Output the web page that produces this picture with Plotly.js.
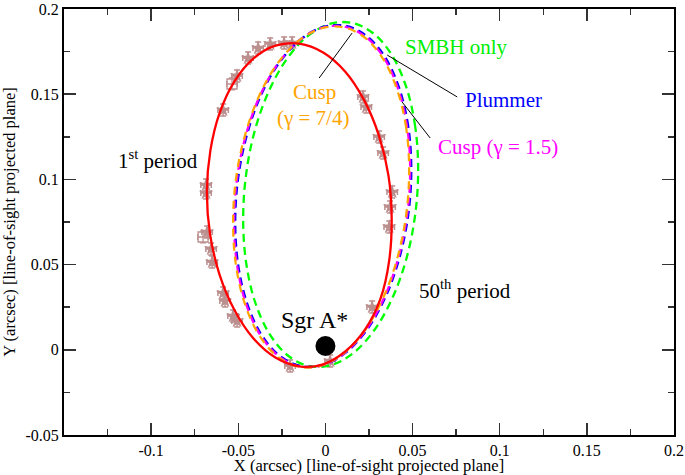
<!DOCTYPE html>
<html>
<head>
<meta charset="utf-8">
<script src="https://cdn.plot.ly/plotly-3.0.1.min.js"></script>
<style>html,body{margin:0;padding:0;background:#fff;}#plot{width:685px;height:475px;}</style>
</head>
<body>
<div id="plot"></div>
<script>
// Observed positions (arcsec)
const starX = [0.0027,-0.0203,-0.0507,-0.0530,-0.0576,-0.0587,-0.0650,-0.0656,-0.0679,-0.0685,-0.0685,-0.0587,-0.0507,-0.0444,-0.0386,-0.0317,-0.0237,-0.0191,0.0216,0.0234,0.0308,0.0331,0.0383,0.0371,0.0366,0.0268];
const starY = [-0.0066,-0.0095,0.0169,0.0198,0.0286,0.0333,0.0515,0.0592,0.0691,0.0920,0.0967,0.1407,0.1607,0.1712,0.1771,0.1795,0.1800,0.1800,0.1484,0.1425,0.1249,0.1155,0.0926,0.0838,0.0721,0.0251];
const squareX = [-0.0536,-0.0702];
const squareY = [0.1560,0.0662];
const errX = 0.003;
const errY = 0.0035;

// 1st period orbit (points read around the red curve)
const firstX = [0.0380,0.0362,0.0307,0.0222,0.0114,-0.0013,-0.0150,-0.0287,-0.0414,-0.0523,-0.0607,-0.0660,-0.0680,-0.0662,-0.0608,-0.0523,-0.0414,-0.0287,-0.0150,-0.0013,0.0114,0.0228,0.0316,0.0366];
const firstY = [0.0773,0.1021,0.1257,0.1465,0.1632,0.1745,0.1797,0.1785,0.1709,0.1574,0.1390,0.1170,0.0927,0.0679,0.0443,0.0235,0.0068,-0.0045,-0.0097,-0.0085,-0.0009,0.0120,0.0300,0.0525];

// 50th period: SMBH only
const smbhX = [0.0532,0.0515,0.0465,0.0385,0.0281,0.0160,0.0030,-0.0100,-0.0221,-0.0325,-0.0405,-0.0455,-0.0472,-0.0455,-0.0405,-0.0325,-0.0221,-0.0100,0.0030,0.0160,0.0281,0.0385,0.0465,0.0515];
const smbhY = [0.1057,0.1311,0.1538,0.1723,0.1852,0.1917,0.1914,0.1842,0.1707,0.1517,0.1287,0.1031,0.0766,0.0512,0.0285,0.0100,-0.0029,-0.0094,-0.0091,-0.0019,0.0116,0.0306,0.0536,0.0793];

// 50th period: Plummer
const plumX = [0.0492,0.0475,0.0424,0.0344,0.0240,0.0118,-0.0013,-0.0144,-0.0266,-0.0370,-0.0450,-0.0501,-0.0518,-0.0501,-0.0450,-0.0370,-0.0266,-0.0144,-0.0013,0.0118,0.0240,0.0344,0.0424,0.0475];
const plumY = [0.1057,0.1308,0.1532,0.1713,0.1838,0.1900,0.1894,0.1820,0.1684,0.1495,0.1265,0.1010,0.0749,0.0497,0.0273,0.0092,-0.0033,-0.0095,-0.0089,-0.0015,0.0121,0.0310,0.0540,0.0795];

// 50th period: Cusp (gamma = 1.5)
const cusp15X = [0.0486,0.0469,0.0418,0.0338,0.0234,0.0112,-0.0019,-0.0150,-0.0272,-0.0376,-0.0456,-0.0507,-0.0524,-0.0507,-0.0456,-0.0376,-0.0272,-0.0150,-0.0019,0.0112,0.0234,0.0338,0.0418,0.0469];
const cusp15Y = [0.1055,0.1306,0.1528,0.1709,0.1834,0.1896,0.1890,0.1816,0.1680,0.1491,0.1261,0.1008,0.0747,0.0495,0.0271,0.0090,-0.0035,-0.0097,-0.0091,-0.0017,0.0119,0.0308,0.0538,0.0793];

// 50th period: Cusp (gamma = 7/4)
const cusp74X = [0.0480,0.0463,0.0412,0.0332,0.0228,0.0106,-0.0025,-0.0156,-0.0278,-0.0382,-0.0462,-0.0513,-0.0530,-0.0513,-0.0462,-0.0382,-0.0278,-0.0156,-0.0025,0.0106,0.0228,0.0332,0.0412,0.0463];
const cusp74Y = [0.1053,0.1304,0.1524,0.1705,0.1830,0.1892,0.1886,0.1812,0.1676,0.1487,0.1257,0.1006,0.0745,0.0493,0.0269,0.0088,-0.0037,-0.0099,-0.0093,-0.0019,0.0117,0.0306,0.0536,0.0791];

// Sgr A*
const sgrX = [0.0];
const sgrY = [0.0022];

// Tick labels
const xTicks = [-0.1,-0.05,0,0.05,0.1,0.15,0.2];
const xTickText = ['-0.1','-0.05','0','0.05','0.1','0.15','0.2'];
const yTicks = [-0.05,0,0.05,0.1,0.15,0.2];
const yTickText = ['-0.05','0','0.05','0.1','0.15','0.2'];

const serif = 'Liberation Serif';
const ptColor = '#bc8f8f';

// close an orbit (first point repeated at the end)
function loop(arr) {
  const out = arr.slice();
  out.push(arr[0]);
  return out;
}

function orbit(xs, ys, line) {
  return {x: loop(xs), y: loop(ys), type: 'scatter', mode: 'lines',
          line: Object.assign({shape: 'spline', smoothing: 1}, line)};
}

const traces = [
  {x: starX, y: starY, type: 'scatter', mode: 'markers',
   marker: {symbol: 'star', size: 11, color: ptColor},
   error_x: {type: 'constant', value: errX, color: ptColor, thickness: 1.5, width: 3},
   error_y: {type: 'constant', value: errY, color: ptColor, thickness: 1.5, width: 3}},
  {x: squareX, y: squareY, type: 'scatter', mode: 'markers',
   marker: {symbol: 'square-open', size: 10, color: ptColor, line: {width: 1.3}},
   error_x: {type: 'constant', value: errX, color: ptColor, thickness: 1.3, width: 3},
   error_y: {type: 'constant', value: errY, color: ptColor, thickness: 1.3, width: 3}},
  orbit(smbhX, smbhY, {color: '#00ff00', width: 2.3, dash: '8px,5px'}),
  orbit(plumX, plumY, {color: '#0000ff', width: 2.5, dash: '8px,5px'}),
  orbit(cusp15X, cusp15Y, {color: '#ff00ff', width: 2.2, dash: '8px,5px'}),
  orbit(cusp74X, cusp74Y, {color: '#ffa500', width: 2.2, dash: '8px,6px'}),
  orbit(firstX, firstY, {color: '#ff0000', width: 2.3}),
  {x: sgrX, y: sgrY, type: 'scatter', mode: 'markers',
   marker: {symbol: 'circle', size: 20, color: '#000000'}}
];

function ann(x, y, text, color, size) {
  return {x: x, y: y, xref: 'x', yref: 'y', text: text, showarrow: false,
          font: {family: serif, size: size || 21, color: color}, xanchor: 'center', yanchor: 'middle'};
}

const layout = {
  width: 685, height: 475,
  margin: {l: 64, r: 11, t: 9, b: 40},
  paper_bgcolor: '#ffffff', plot_bgcolor: '#ffffff',
  showlegend: false,
  font: {family: serif, color: '#000000'},
  xaxis: {
    range: [-0.15, 0.2], tickmode: 'array', tickvals: xTicks, ticktext: xTickText,
    ticks: 'inside', ticklen: 12, tickwidth: 1.5, tickcolor: '#333333',
    minor: {dtick: 0.025, tick0: 0, ticks: 'inside', ticklen: 6, tickwidth: 1.5, tickcolor: '#333333'},
    showline: true, linecolor: '#000000', linewidth: 2, mirror: 'ticks',
    showgrid: false, zeroline: false,
    tickfont: {family: serif, size: 16, color: '#000000'},
    title: {text: 'X (arcsec) [line-of-sight projected plane]', font: {family: serif, size: 16.5, color: '#000000'}, standoff: 8}
  },
  yaxis: {
    range: [-0.05, 0.2], tickmode: 'array', tickvals: yTicks, ticktext: yTickText,
    ticks: 'inside', ticklen: 12, tickwidth: 1.5, tickcolor: '#333333',
    minor: {dtick: 0.025, tick0: 0, ticks: 'inside', ticklen: 6, tickwidth: 1.5, tickcolor: '#333333'},
    showline: true, linecolor: '#000000', linewidth: 2, mirror: 'ticks',
    showgrid: false, zeroline: false,
    tickfont: {family: serif, size: 16, color: '#000000'},
    title: {text: 'Y (arcsec) [line-of-sight projected plane]', font: {family: serif, size: 16.5, color: '#000000'}, standoff: 6}
  },
  shapes: [
    {type: 'line', xref: 'x', yref: 'y', x0: -0.0036, y0: 0.1595, x1: 0.0153, y1: 0.1859, line: {color: '#000000', width: 1}},
    {type: 'line', xref: 'x', yref: 'y', x0: 0.0354, y0: 0.1730, x1: 0.0756, y1: 0.1484, line: {color: '#000000', width: 1}},
    {type: 'line', xref: 'x', yref: 'y', x0: 0.0440, y0: 0.1454, x1: 0.0601, y1: 0.1243, line: {color: '#000000', width: 1}}
  ],
  annotations: [
    ann(0.0750, 0.1777, 'SMBH only', '#00ee00'),
    ann(0.1020, 0.1466, 'Plummer', '#0000ff'),
    ann(0.0991, 0.1190, 'Cusp (γ = 1.5)', '#ff00ff'),
    ann(-0.0065, 0.1513, 'Cusp', '#ffa500'),
    ann(-0.0073, 0.1360, '(γ = 7/4)', '#ffa500'),
    ann(-0.0960, 0.1114, '1<sup>st</sup> period', '#000000'),
    ann(0.0802, 0.0351, '50<sup>th</sup> period', '#000000'),
    ann(-0.0065, 0.0175, 'Sgr A*', '#000000', 24)
  ]
};

Plotly.newPlot('plot', traces, layout, {staticPlot: true, displayModeBar: false});
</script>
</body>
</html>
